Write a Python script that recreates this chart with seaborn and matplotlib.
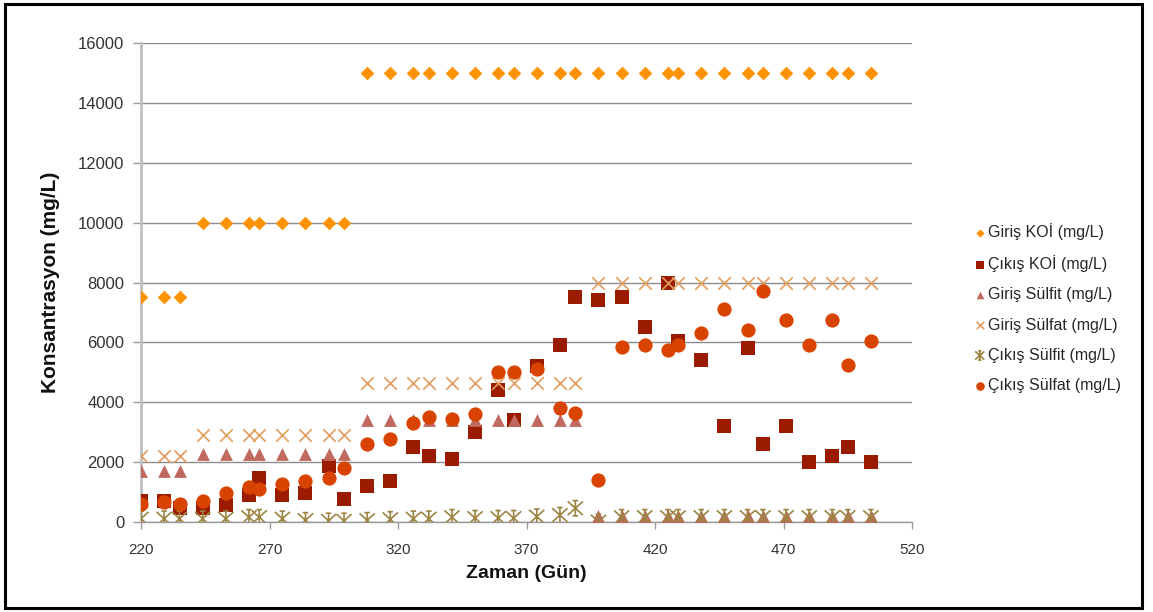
import numpy as np
import pandas as pd
import matplotlib
matplotlib.use("Agg")
import matplotlib.pyplot as plt
from matplotlib.path import Path
from matplotlib.markers import MarkerStyle
from matplotlib.patches import Rectangle
import seaborn as sns

# ---------------- data ----------------
days = [220, 229, 235, 244, 253, 262, 266, 275, 284, 293, 299,
        308, 317, 326, 332, 341, 350, 359, 365, 374, 383, 389,
        398, 407, 416, 425, 429, 438, 447, 456, 462, 471, 480, 489, 495, 504]

giris_koi = [7500, 7500, 7500,
             10000, 10000, 10000, 10000, 10000, 10000, 10000, 10000,
             15000, 15000, 15000, 15000, 15000, 15000, 15000, 15000, 15000, 15000, 15000,
             15000, 15000, 15000, 15000, 15000, 15000, 15000, 15000, 15000, 15000, 15000, 15000, 15000, 15000]

cikis_koi = [700, 700, 450, 450, 550, 900, 1450, 900, 950, 1850, 750,
             1200, 1350, 2500, 2200, 2100, 3000, 4400, 3400, 5200, 5900, 7500,
             7400, 7500, 6500, 8000, 6050, 5400, 3200, 5800, 2600, 3200, 2000, 2200, 2500, 2000]

giris_sulfit = [1700, 1700, 1700,
                2250, 2250, 2250, 2250, 2250, 2250, 2250, 2250,
                3400, 3400, 3400, 3400, 3400, 3400, 3400, 3400, 3400, 3400, 3400,
                200, 200, 200, 200, 200, 200, 200, 200, 200, 200, 200, 200, 200, 200]

giris_sulfat = [2200, 2200, 2200,
                2900, 2900, 2900, 2900, 2900, 2900, 2900, 2900,
                4650, 4650, 4650, 4650, 4650, 4650, 4650, 4650, 4650, 4650, 4650,
                8000, 8000, 8000, 8000, 8000, 8000, 8000, 8000, 8000, 8000, 8000, 8000, 8000, 8000]

cikis_sulfit = [100, 100, 100, 100, 100, 150, 150, 100, 50, 30, 30,
                50, 80, 100, 100, 150, 120, 120, 120, 170, 220, 450,
                0, 150, 150, 150, 150, 150, 150, 150, 150, 150, 150, 150, 150, 150]

cikis_sulfat = [600, 650, 600, 700, 950, 1150, 1100, 1250, 1350, 1450, 1800,
                2600, 2750, 3300, 3500, 3450, 3600, 5000, 5000, 5100, 3800, 3650,
                1400, 5850, 5900, 5750, 5900, 6300, 7100, 6400, 7700, 6750, 5900, 6750, 5250, 6050]

series_names = ["Giriş KOİ (mg/L)", "Çıkış KOİ (mg/L)", "Giriş Sülfit (mg/L)",
                "Giriş Sülfat (mg/L)", "Çıkış Sülfit (mg/L)", "Çıkış Sülfat (mg/L)"]
x_ticks = [220, 270, 320, 370, 420, 470, 520]
y_ticks = [0, 2000, 4000, 6000, 8000, 10000, 12000, 14000, 16000]

# ---------------- style ----------------
sns.set_style("white")
plt.rcParams["font.family"] = ["Liberation Sans", "DejaVu Sans"]

# asterisk-like marker (Excel "star"): X + vertical bar + short top/bottom caps
verts = [(-0.5, -0.45), (0.5, 0.45), (-0.5, 0.45), (0.5, -0.45),
         (0, -0.5), (0, 0.5), (-0.18, 0.5), (0.18, 0.5), (-0.18, -0.5), (0.18, -0.5)]
codes = [Path.MOVETO, Path.LINETO] * 5
star_marker = MarkerStyle(Path(verts, codes), fillstyle="none")

styles = [
    dict(marker="D", color="#FF9200", s=48, filled=True),
    dict(marker="s", color="#9A1B00", s=100, filled=True),
    dict(marker="^", color="#C0695E", s=85, filled=True),
    dict(marker="x", color="#E29C5C", s=80, filled=False),
    dict(marker=star_marker, color="#9D8443", s=120, filled=False),
    dict(marker="o", color="#D94300", s=105, filled=True),
]
values = [giris_koi, cikis_koi, giris_sulfit, giris_sulfat, cikis_sulfit, cikis_sulfat]

df = pd.DataFrame({"Gün": days})
for name, vals in zip(series_names, values):
    df[name] = vals

fig = plt.figure(figsize=(11.53, 6.12), dpi=100)
ax = fig.add_axes([141 / 1153, 1 - 521.7 / 612, 771 / 1153, 478.4 / 612])

handles = []
for i, (name, st) in enumerate(zip(series_names, styles)):
    if st["filled"]:
        sns.scatterplot(data=df, x="Gün", y=name, ax=ax, marker=st["marker"],
                        color=st["color"], s=st["s"], linewidth=0, zorder=3 + i)
    else:
        sns.scatterplot(data=df, x="Gün", y=name, ax=ax, marker=st["marker"],
                        color=st["color"], s=st["s"], linewidth=1.2, zorder=3 + i)
    handles.append(ax.collections[-1])

ax.set_xlim(220, 520)
ax.set_ylim(0, 16000)
ax.set_xticks(x_ticks)
ax.set_yticks(y_ticks)
ax.set_xticklabels([str(t) for t in x_ticks], fontsize=11, color="#333333")
ax.set_yticklabels([str(t) for t in y_ticks], fontsize=12, color="#333333")

ax.yaxis.grid(True, color="#8c8c8c", linewidth=1.0)
ax.xaxis.grid(False)
ax.set_axisbelow(True)
for side in ["top", "right"]:
    ax.spines[side].set_visible(False)
ax.spines["left"].set_color("#c0c0c0")
ax.spines["left"].set_linewidth(2)
ax.spines["bottom"].set_color("#9a9a9a")
ax.spines["bottom"].set_linewidth(1)
ax.tick_params(axis="y", which="both", left=True, length=6, color="#9a9a9a", width=1, pad=6)
ax.tick_params(axis="x", which="both", bottom=True, length=5, color="#9a9a9a", width=1, pad=10)

ax.set_xlabel("Zaman (Gün)", fontsize=14, fontweight="bold", color="#111111")
ax.set_ylabel("Konsantrasyon (mg/L)", fontsize=15, fontweight="bold", color="#111111")
ax.xaxis.set_label_coords(0.5, -0.09)
ax.yaxis.set_label_coords(-0.105, 0.5)

leg = fig.legend(handles, series_names, loc="center left",
                 bbox_to_anchor=(967 / 1153, 1 - 308 / 612), frameon=False,
                 fontsize=11.5, labelspacing=0.95, handletextpad=0.1,
                 handlelength=0.8, markerscale=0.6, borderaxespad=0)

# outer frame
fig.patches.append(Rectangle((5 / 1153, 4 / 612), 1137 / 1153, 604 / 612,
                             transform=fig.transFigure, fill=False,
                             edgecolor="black", linewidth=2.2, zorder=10))

fig.savefig("out.png", dpi=100, facecolor="white")
